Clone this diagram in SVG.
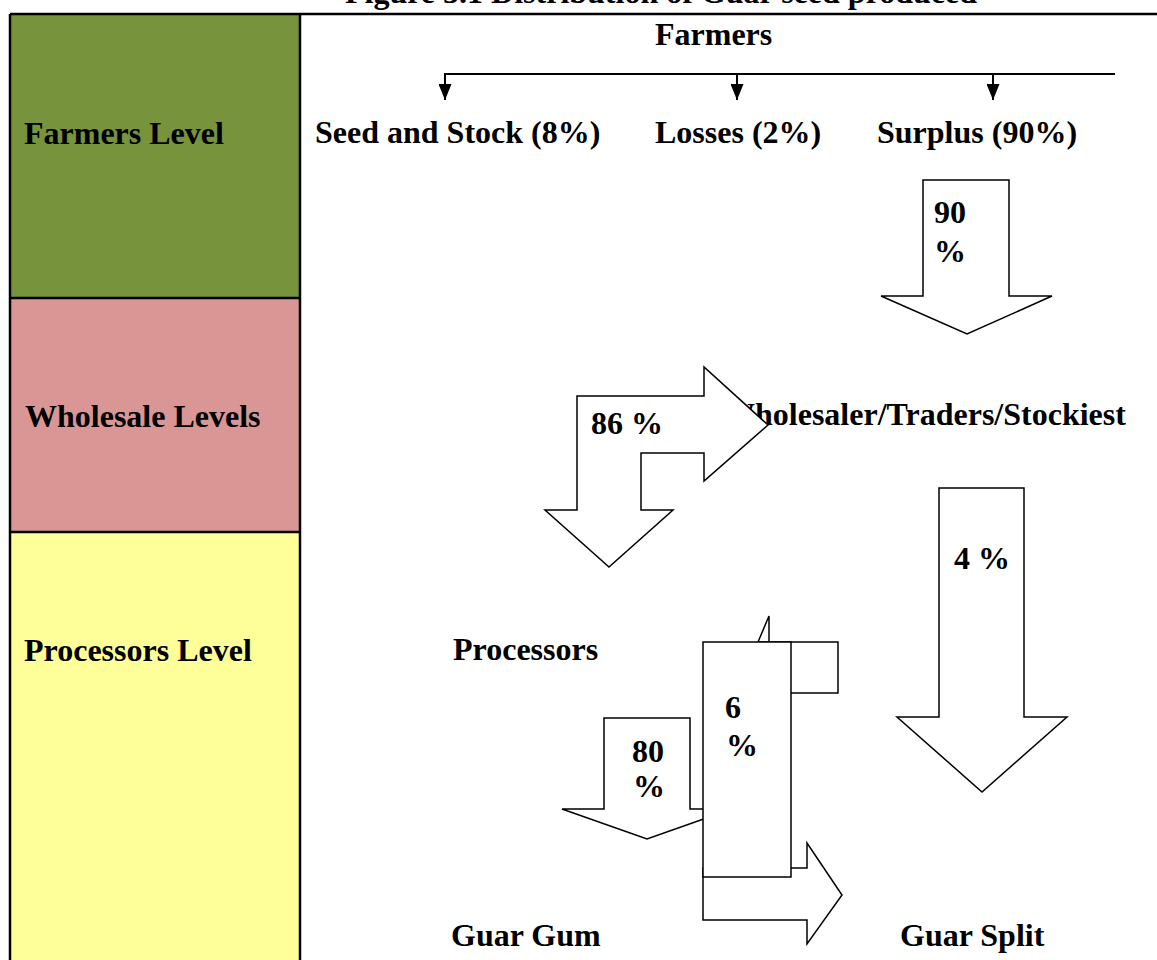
<svg xmlns="http://www.w3.org/2000/svg" width="1157" height="960" viewBox="0 0 1157 960">
<style>
text{font-family:"Liberation Serif","Times New Roman",serif;font-weight:bold;font-size:32px;fill:#000}
.arr{fill:#fff;stroke:#000;stroke-width:1.5;stroke-linejoin:miter}
.grid{stroke:#000;stroke-width:2.5;fill:none}
.con{stroke:#000;stroke-width:2;fill:none}
</style>
<defs>
<marker id="ah" markerWidth="16" markerHeight="13" refX="16" refY="6.5" orient="auto" markerUnits="userSpaceOnUse" viewBox="0 0 16 13">
<path d="M0,0 L16,6.5 L0,13 Z" fill="#000"/>
</marker>
</defs>
<rect x="0" y="0" width="1157" height="960" fill="#fff"/>
<g id="title"><text x="345" y="3">Figure 3.1 Distribution of Guar seed produced</text></g>
<g id="levels">
<rect x="10" y="14" width="290" height="284" fill="#77933C"/>
<rect x="10" y="298" width="290" height="234" fill="#D99694"/>
<rect x="10" y="532" width="290" height="440" fill="#FFFF99"/>
<line class="grid" x1="10" y1="14" x2="1157" y2="14" stroke-width="3"/>
<line class="grid" x1="10" y1="14" x2="10" y2="960"/>
<line class="grid" x1="300" y1="14" x2="300" y2="960"/>
<line class="grid" x1="10" y1="298" x2="300" y2="298"/>
<line class="grid" x1="10" y1="532" x2="300" y2="532"/>
<text x="24" y="144">Farmers Level</text>
<text x="25" y="427">Wholesale Levels</text>
<text x="24" y="661">Processors Level</text>
</g>
<g id="connectors">
<line class="con" x1="445" y1="74" x2="1115" y2="74"/>
<line class="con" x1="445" y1="73" x2="445" y2="100" marker-end="url(#ah)"/>
<line class="con" x1="737" y1="73" x2="737" y2="100" marker-end="url(#ah)"/>
<line class="con" x1="993" y1="73" x2="993" y2="100" marker-end="url(#ah)"/>
</g>
<g id="farmers"><text x="655" y="45">Farmers</text></g>
<g id="seed"><text x="315" y="143">Seed and Stock (8%)</text></g>
<g id="losses"><text x="655" y="143">Losses (2%)</text></g>
<g id="surplus"><text x="877" y="143">Surplus (90%)</text></g>
<g id="arrow90">
<polygon class="arr" points="923,180 1009,180 1009,296 1052,296 967,334 881,296 923,296"/>
<text x="934" y="223">90</text>
<text x="934" y="262">%</text>
</g>
<g id="wholesaler"><text x="723" y="425">Wholesaler/Traders/Stockiest</text></g>
<g id="arrow86">
<polygon class="arr" points="577,396 704,396 704,367 768,425 704,481 704,453 641,453 641,510 673,510 609,567 545,510 577,510"/>
<text x="591" y="434">86 %</text>
</g>
<g id="arrow4">
<polygon class="arr" points="939,488 1024,488 1024,717 1067,717 982,792 897,717 939,717"/>
<text x="954" y="569">4 %</text>
</g>
<g id="processors"><text x="453" y="660">Processors</text></g>
<g id="arrow80">
<polygon class="arr" points="604,718 690,718 690,809 732,809 647,839 562,809 604,809"/>
<text x="632" y="762">80</text>
<text x="633" y="797">%</text>
</g>
<g id="arrowSplit">
<polygon class="arr" points="703,868 807,868 807,843 842,895 807,944 807,920 703,920"/>
</g>
<g id="arrow6">
<polygon class="arr" points="758,642 769,616 769,642"/>
<rect class="arr" x="769" y="642" width="69" height="51"/>
<rect class="arr" x="703" y="642" width="88" height="235"/>
<text x="725" y="718">6</text>
<text x="726" y="756">%</text>
</g>
<g id="guargum"><text x="451" y="946">Guar Gum</text></g>
<g id="guarsplit"><text x="900" y="946">Guar Split</text></g>
</svg>
